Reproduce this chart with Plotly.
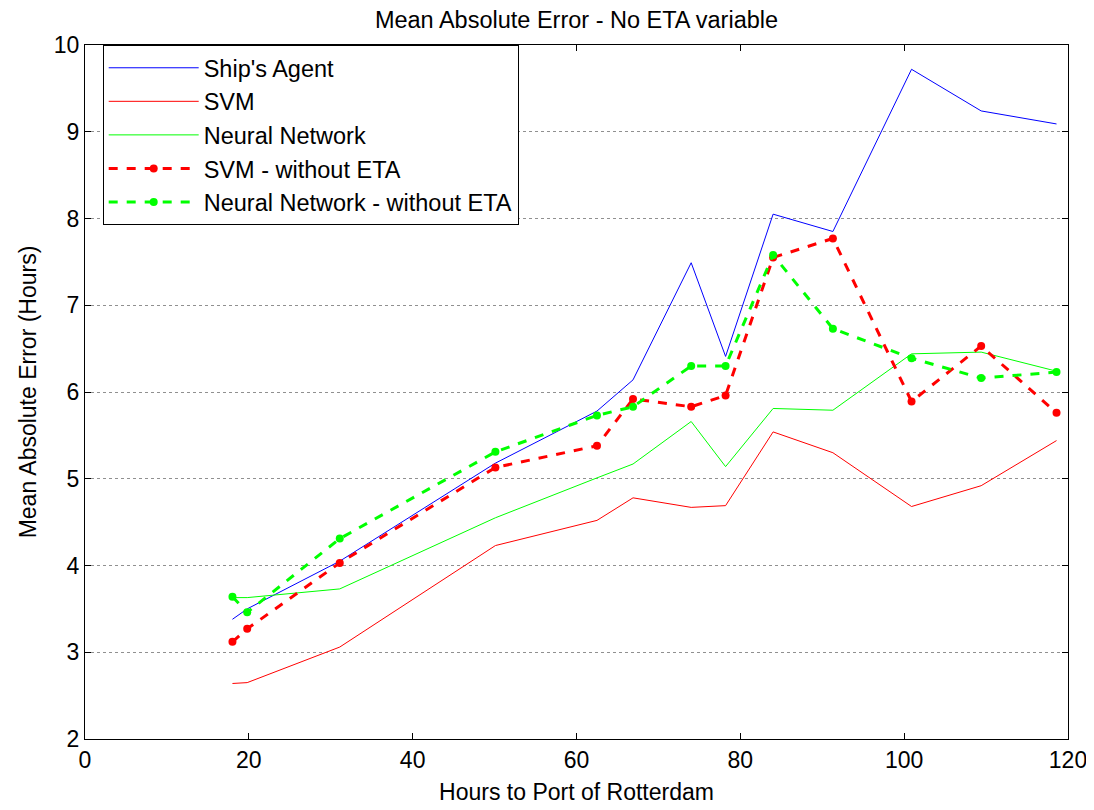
import plotly.graph_objects as go

hours = [18.0, 19.8, 31.1, 50.1, 62.5, 66.9, 74.0, 78.2, 84.0, 91.3, 100.9, 109.4, 118.6]
ships_agent = [3.38, 3.50, 4.05, 5.18, 5.78, 6.14, 7.49, 6.41, 8.05, 7.85, 9.72, 9.24, 9.09]
svm = [2.64, 2.65, 3.06, 4.23, 4.52, 4.78, 4.67, 4.69, 5.54, 5.30, 4.68, 4.92, 5.44]
neural_net = [3.63, 3.63, 3.73, 4.55, 5.01, 5.17, 5.66, 5.14, 5.81, 5.79, 6.44, 6.46, 6.24]
svm_no_eta = [3.12, 3.27, 4.03, 5.13, 5.38, 5.92, 5.83, 5.96, 7.55, 7.77, 5.89, 6.53, 5.76]
nn_no_eta = [3.64, 3.46, 4.31, 5.31, 5.73, 5.83, 6.30, 6.30, 7.58, 6.73, 6.39, 6.16, 6.23]

x_ticks = [0, 20, 40, 60, 80, 100, 120]
y_ticks = [2, 3, 4, 5, 6, 7, 8, 9, 10]

W, H = 1086, 802

fig = go.Figure()
fig.add_trace(go.Scatter(x=hours, y=ships_agent, mode="lines", name="Ship's Agent",
                         line=dict(color="#0000ff", width=1)))
fig.add_trace(go.Scatter(x=hours, y=svm, mode="lines", name="SVM",
                         line=dict(color="#ff0000", width=1)))
fig.add_trace(go.Scatter(x=hours, y=neural_net, mode="lines", name="Neural Network",
                         line=dict(color="#00ff00", width=1)))
fig.add_trace(go.Scatter(x=hours, y=svm_no_eta, mode="lines+markers", name="SVM - without ETA",
                         line=dict(color="#ff0000", width=3, dash="dash"),
                         marker=dict(color="#ff0000", size=8)))
fig.add_trace(go.Scatter(x=hours, y=nn_no_eta, mode="lines+markers", name="Neural Network - without ETA",
                         line=dict(color="#00ff00", width=3, dash="dash"),
                         marker=dict(color="#00ff00", size=8)))

fig.update_layout(
    width=W, height=H,
    paper_bgcolor="white", plot_bgcolor="white",
    margin=dict(l=77, r=26, t=37, b=71),
    font=dict(family="Liberation Sans, Arial, sans-serif", color="black", size=23),
    title=dict(text="Mean Absolute Error - No ETA variable", x=0.5, xanchor="center",
               xref="paper", yref="container", y=1 - 12 / H, yanchor="middle",
               font=dict(size=23.5)),
    showlegend=True,
    legend=dict(x=0.018, y=1.0, xanchor="left", yanchor="top",
                bgcolor="white", bordercolor="black", borderwidth=1,
                font=dict(size=23.5), tracegroupgap=0, itemwidth=90),
    xaxis=dict(range=[0, 120], tickvals=x_ticks, showgrid=False, zeroline=False,
               showline=True, linecolor="black", linewidth=1, mirror="ticks",
               ticks="inside", ticklen=6, tickcolor="black", tickfont=dict(size=23),
               automargin=False,
               title=dict(text="Hours to Port of Rotterdam", font=dict(size=23), standoff=12)),
    yaxis=dict(range=[2, 10], tickvals=y_ticks, showgrid=True, gridcolor="#909090",
               griddash="dot", gridwidth=1, zeroline=False,
               showline=True, linecolor="black", linewidth=1, mirror="ticks",
               ticks="inside", ticklen=6, tickcolor="black", tickfont=dict(size=23),
               automargin=False,
               title=dict(text="Mean Absolute Error (Hours)", font=dict(size=23), standoff=10)),
)

fig.write_html("out.html")
